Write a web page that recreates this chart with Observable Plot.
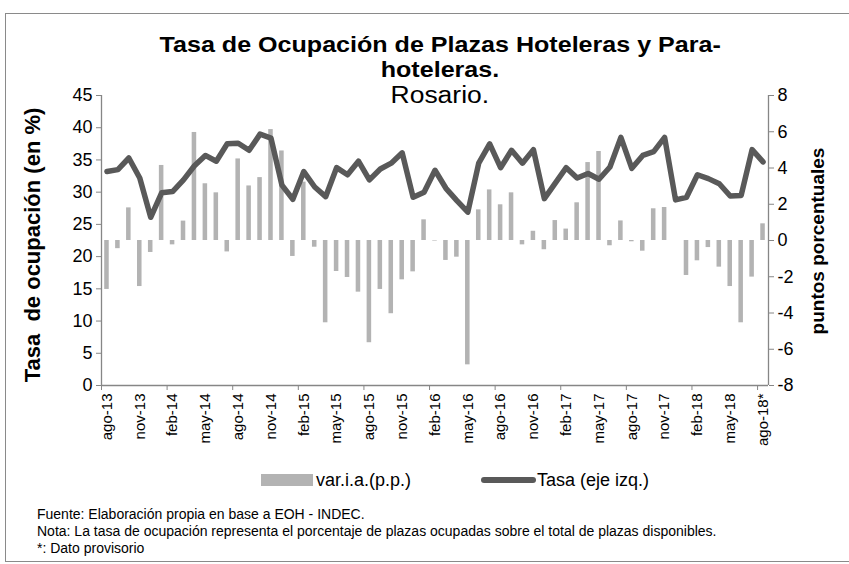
<!DOCTYPE html>
<html><head><meta charset="utf-8">
<script src="https://cdn.jsdelivr.net/npm/d3@7"></script>
<script src="https://cdn.jsdelivr.net/npm/@observablehq/plot@0.6"></script>
<style>
body{margin:0;background:#fff;font-family:"Liberation Sans",Arial,sans-serif;}
#wrap{position:relative;width:849px;height:564px;overflow:hidden;background:#fff;}
#frame{position:absolute;left:5px;top:13px;width:900px;height:549px;border:1px solid #8a8a8a;box-sizing:border-box;}
#chart{position:absolute;left:0;top:0;}
.t{position:absolute;left:40px;width:800px;height:26px;line-height:26px;text-align:center;color:#000;white-space:nowrap;}
.t span{display:inline-block;transform-origin:center;}
.yl{position:absolute;font-weight:bold;white-space:nowrap;transform-origin:center;color:#000;}
#legend{position:absolute;top:469px;left:0;width:849px;height:22px;font-size:18px;line-height:22px;}
.sw{position:absolute;}
.foot{position:absolute;left:37px;font-family:"Liberation Sans Narrow","Arial Narrow",sans-serif;font-size:14px;line-height:17px;height:17px;color:#000;white-space:nowrap;}
</style></head>
<body>
<div id="wrap">
  <div id="frame"></div>
  <div id="chart"></div>
  <div class="t" style="top:32px;font-size:22px;font-weight:bold;"><span style="transform:scaleX(1.14);">Tasa de Ocupación de Plazas Hoteleras y Para-</span></div>
  <div class="t" style="top:57px;font-size:22px;font-weight:bold;"><span style="transform:scaleX(1.14);">hoteleras.</span></div>
  <div class="t" style="top:82px;font-size:23px;"><span style="transform:scaleX(1.15);">Rosario.</span></div>
  <div class="yl" id="ylL" style="font-size:22px;">Tasa&nbsp; de ocupación (en %)</div>
  <div class="yl" id="ylR" style="font-size:19px;">puntos porcentuales</div>
  <div id="legend">
    <div class="sw" style="left:261px;top:5px;width:52px;height:12px;background:#b3b3b3;"></div>
    <div style="position:absolute;left:316px;top:0;">var.i.a.(p.p.)</div>
    <div class="sw" style="left:481px;top:8px;width:55px;height:6px;border-radius:3px;background:#595959;"></div>
    <div style="position:absolute;left:537px;top:0;">Tasa (eje izq.)</div>
  </div>
  <div class="foot" style="top:506px;">Fuente: Elaboración propia en base a EOH - INDEC.</div>
  <div class="foot" style="top:523px;">Nota: La tasa de ocupación representa el porcentaje de plazas ocupadas sobre el total de plazas disponibles.</div>
  <div class="foot" style="top:540px;">*: Dato provisorio</div>
</div>
<script>
const meses = [
  "ago-13","sep-13","oct-13","nov-13","dic-13",
  "ene-14","feb-14","mar-14","abr-14","may-14","jun-14","jul-14","ago-14","sep-14","oct-14","nov-14","dic-14",
  "ene-15","feb-15","mar-15","abr-15","may-15","jun-15","jul-15","ago-15","sep-15","oct-15","nov-15","dic-15",
  "ene-16","feb-16","mar-16","abr-16","may-16","jun-16","jul-16","ago-16","sep-16","oct-16","nov-16","dic-16",
  "ene-17","feb-17","mar-17","abr-17","may-17","jun-17","jul-17","ago-17","sep-17","oct-17","nov-17","dic-17",
  "ene-18","feb-18","mar-18","abr-18","may-18","jun-18","jul-18","ago-18*"
];
// Tasa de ocupación (%), eje izquierdo
const tasa = [
  33.2,33.5,35.3,32.2,26.1,
  29.9,30.1,31.9,34.1,35.7,34.8,37.5,37.6,36.5,39.0,38.4,31.1,
  28.9,33.2,30.8,29.3,33.8,32.7,34.8,31.9,33.6,34.5,36.1,29.2,
  30.0,33.4,30.6,28.7,26.9,34.5,37.5,33.8,36.5,34.5,36.6,29.0,
  31.4,33.8,32.2,32.9,32.0,33.9,38.5,33.7,35.7,36.3,38.5,28.8,
  29.2,32.7,32.1,31.3,29.4,29.5,36.6,34.7
];
// var.i.a. (p.p.), eje derecho
const varia = [
  -2.70,-0.45,1.80,-2.54,-0.66,
  4.14,-0.24,1.07,5.96,3.13,2.63,-0.63,4.50,3.01,3.47,6.12,4.94,
  -0.88,3.22,-0.37,-4.54,-1.71,-2.04,-2.85,-5.64,-2.70,-4.04,-2.17,-1.73,
  1.14,-0.03,-1.10,-0.92,-6.86,1.69,2.79,1.97,2.63,-0.24,0.51,-0.51,
  1.10,0.63,2.08,4.30,4.91,-0.29,1.08,-0.07,-0.59,1.75,1.82,0.00,
  -1.93,-1.12,-0.39,-1.47,-2.54,-4.54,-2.02,0.92
];
const etiquetasX = meses.filter((m,i) => i % 3 === 0);
const marcasX = meses.filter((m,i) => i % 6 === 0);
const ticksIzq = [0,5,10,15,20,25,30,35,40,45];
const ticksDer = [-8,-6,-4,-2,0,2,4,6,8];

// map right axis (-8..8) onto left axis (0..45)
const L0 = 0, L1 = 45, R0 = -8, R1 = 8;
const toL = v => L0 + (v - R0) * (L1 - L0) / (R1 - R0);
const toR = l => R0 + (l - L0) * (R1 - R0) / (L1 - L0);

const data = meses.map((m,i) => ({mes: m, tasa: tasa[i], varia: varia[i]}));

const W = 849, H = 470, ML = 101, MR = 81, MT = 95, MB = 85;
const bw = (W - ML - MR) / meses.length;
const axisCol = "#868686";

const chart = Plot.plot({
  width: W, height: H,
  marginLeft: ML, marginRight: MR, marginTop: MT, marginBottom: MB,
  style: {fontFamily: "'Liberation Sans', Arial, sans-serif", color: "#000", background: "transparent", overflow: "visible"},
  x: {type: "band", domain: meses, padding: 0, axis: null},
  y: {domain: [L0, L1], axis: null},
  marks: [
    Plot.barY(data, {x: "mes", y1: d => toL(0), y2: d => toL(d.varia), fill: "#b3b3b3", insetLeft: 3.2, insetRight: 3.2}),
    Plot.ruleY([L0], {stroke: axisCol, strokeWidth: 1.3}),
    Plot.ruleX([meses[0]], {y1: L0, y2: L1, dx: -bw/2, stroke: axisCol, strokeWidth: 1.3}),
    Plot.ruleX([meses[meses.length-1]], {y1: L0, y2: L1, dx: bw/2, stroke: axisCol, strokeWidth: 1.3}),
    Plot.line(data, {x: "mes", y: "tasa", stroke: "#595959", strokeWidth: 5.5, strokeLinejoin: "round", strokeLinecap: "round"}),
    Plot.axisY({anchor: "left", ticks: ticksIzq, tickSize: 5, tickPadding: 4, fontSize: 18, stroke: axisCol, fill: "#000", label: null, tickFormat: d => String(d)}),
    Plot.axisY({anchor: "right", ticks: ticksDer.map(toL), tickSize: 5, tickPadding: 4, fontSize: 18, stroke: axisCol, fill: "#000", label: null, tickFormat: d => String(Math.round(toR(d)))}),
    Plot.axisX({ticks: marcasX, tickSize: 5, dx: -bw/2, stroke: axisCol, tickFormat: () => "", label: null}),
    Plot.axisX({ticks: etiquetasX, tickSize: 0, tickPadding: 8, tickRotate: -90, fontSize: 15, fill: "#000", label: null})
  ]
});
document.getElementById("chart").appendChild(chart);

// rotated axis titles
function placeRot(id, cx, cy) {
  const el = document.getElementById(id);
  const w = el.offsetWidth, h = el.offsetHeight;
  el.style.left = (cx - w/2) + "px";
  el.style.top = (cy - h/2) + "px";
  el.style.transform = "rotate(-90deg)";
}
placeRot("ylL", 33, 245);
placeRot("ylR", 818, 241);
</script>
</body></html>
